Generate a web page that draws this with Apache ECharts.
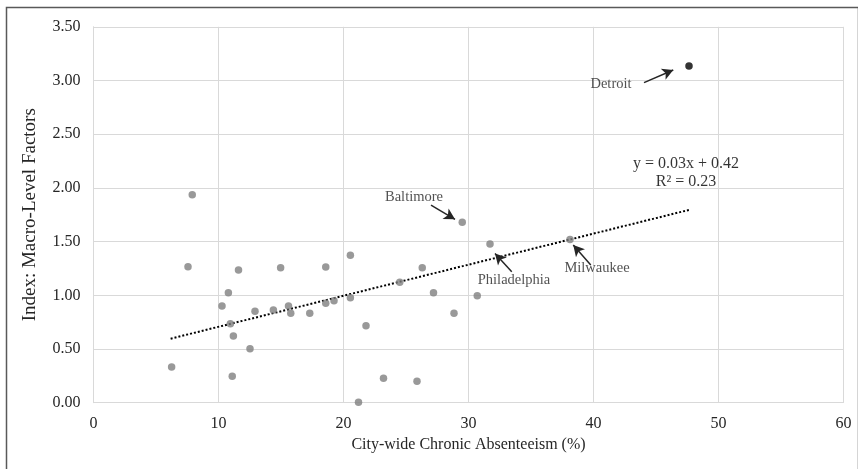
<!DOCTYPE html>
<html>
<head>
<meta charset="utf-8">
<script src="https://cdn.jsdelivr.net/npm/echarts@6/dist/echarts.min.js"></script>
<style>
html,body{margin:0;padding:0;background:#fff;}
#chart{width:858px;height:469px;}
</style>
</head>
<body>
<div id="chart"></div>
<script>
// ---- Data ----
var absenteeism = [7.9, 7.56, 11.6, 14.97, 10.79, 10.28, 12.92, 14.39, 15.6, 15.78, 17.3, 10.95, 11.19, 12.52, 6.25, 11.1,
  29.5, 31.72, 20.55, 18.58, 26.3, 24.5, 27.2, 30.7, 20.55, 18.58, 19.24, 28.84, 21.8, 23.2, 25.88, 21.2, 38.12];
var macroIndex = [1.937, 1.266, 1.235, 1.257, 1.024, 0.90, 0.851, 0.863, 0.90, 0.832, 0.832, 0.736, 0.621, 0.503, 0.332, 0.246,
  1.68, 1.478, 1.372, 1.263, 1.257, 1.121, 1.024, 0.996, 0.978, 0.925, 0.95, 0.832, 0.717, 0.227, 0.199, 0.004, 1.52];
var detroitPoint = [47.64, 3.135];
var trendX = [6.17, 47.64];
var trendY = [0.596, 1.795];
var xTicks = {min: 0, max: 60, interval: 10};
var yTicks = {min: 0, max: 3.5, interval: 0.5};
var labelNames = ['Detroit', 'Baltimore', 'Philadelphia', 'Milwaukee'];
var labelX = [41.4, 25.64, 33.64, 40.28];
var labelY = [2.967, 1.915, 1.142, 1.254];
var arrowFromX = [44.04, 27.0, 33.46, 39.78];
var arrowFromY = [2.98, 1.839, 1.22, 1.282];
var arrowToX = [46.38, 28.92, 32.12, 38.38];
var arrowToY = [3.098, 1.707, 1.39, 1.468];
var equationLines = ['y = 0.03x + 0.42', 'R² = 0.23'];
var equationX = [47.4, 47.4];
var equationY = [2.222, 2.055];

var FONT = '"Liberation Serif", "Times New Roman", serif';

var points = absenteeism.map(function (x, i) { return [x, macroIndex[i]]; });
var trend = trendX.map(function (x, i) { return [x, trendY[i]]; });
var labels = labelNames.map(function (n, i) { return {name: n, value: [labelX[i], labelY[i]]}; });
var eqs = equationLines.map(function (n, i) { return {name: n, value: [equationX[i], equationY[i]]}; });
var arrows = labelNames.map(function (n, i) {
  return [{coord: [arrowFromX[i], arrowFromY[i]]}, {coord: [arrowToX[i], arrowToY[i]]}];
});

var chart = echarts.init(document.getElementById('chart'), null, {renderer: 'canvas'});
chart.setOption({
  backgroundColor: '#fff',
  animation: false,
  graphic: [{
    type: 'rect', left: 4, top: 5, shape: {width: 852, height: 470},
    style: {fill: 'none', stroke: '#595959', lineWidth: 1.5}, silent: true, z: -1
  }],
  grid: {left: 93.5, right: 14.5, top: 26.8, bottom: 66.3, containLabel: false},
  xAxis: {
    type: 'value', min: xTicks.min, max: xTicks.max, interval: xTicks.interval,
    name: 'City-wide Chronic Absenteeism (%)', nameLocation: 'middle', nameGap: 33,
    nameTextStyle: {fontFamily: FONT, fontSize: 16, color: '#262626'},
    axisLine: {show: true, lineStyle: {color: '#d9d9d9', width: 1}},
    axisTick: {show: false},
    axisLabel: {fontFamily: FONT, fontSize: 16, color: '#262626', margin: 13},
    splitLine: {show: true, lineStyle: {color: '#d9d9d9', width: 1}}
  },
  yAxis: {
    type: 'value', min: yTicks.min, max: yTicks.max, interval: yTicks.interval,
    name: 'Index: Macro-Level Factors', nameLocation: 'middle', nameGap: 54,
    nameTextStyle: {fontFamily: FONT, fontSize: 19, color: '#262626'},
    axisLine: {show: true, lineStyle: {color: '#d9d9d9', width: 1}},
    axisTick: {show: false},
    axisLabel: {fontFamily: FONT, fontSize: 16, color: '#262626', margin: 13,
      formatter: function (v) { return v.toFixed(2); }},
    splitLine: {show: true, lineStyle: {color: '#d9d9d9', width: 1}}
  },
  series: [
    {
      type: 'line', data: trend, symbol: 'none', silent: true, z: 2,
      lineStyle: {color: '#000', width: 2, type: [2, 2]}
    },
    {
      type: 'scatter', data: points, symbol: 'circle', symbolSize: 7.5, z: 3,
      itemStyle: {color: '#808080'}
    },
    {
      type: 'scatter', data: [detroitPoint], symbol: 'circle', symbolSize: 7.5, z: 3,
      itemStyle: {color: '#000'}
    },
    {
      type: 'scatter', data: labels, symbolSize: 0, z: 4, silent: true,
      label: {show: true, position: 'inside', formatter: '{b}', fontFamily: FONT, fontSize: 14.5, color: '#262626'},
      markLine: {
        silent: true, symbol: ['none', 'arrow'], symbolSize: [9, 11],
        label: {show: false},
        lineStyle: {color: '#262626', width: 1.5, type: 'solid'},
        data: arrows
      }
    },
    {
      type: 'scatter', data: eqs, symbolSize: 0, z: 4, silent: true,
      label: {show: true, position: 'inside', formatter: '{b}', fontFamily: FONT, fontSize: 16, color: '#000'}
    }
  ]
});
</script>
</body>
</html>
